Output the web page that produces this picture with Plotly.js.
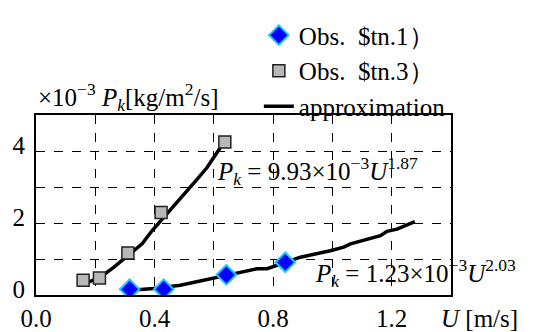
<!DOCTYPE html>
<html><head><meta charset="utf-8">
<script src="https://cdn.plot.ly/plotly-3.0.1.min.js"></script>
<style>body{margin:0;padding:0;background:#fff}#chart{width:560px;height:332px}.main-svg text{font-family:'Liberation Serif',serif !important}</style>
</head><body><div id="chart"></div>
<script>
// Observations, station 1 (U [m/s], Pk [x10^-3 kg/m2/s])
const stn1U = [0.316, 0.431, 0.642, 0.841];
const stn1P = [0.16, 0.16, 0.56, 0.91];
// Observations, station 3
const stn3U = [0.159, 0.214, 0.310, 0.422, 0.637];
const stn3P = [0.41, 0.47, 1.17, 2.29, 4.25];
// Approximation curve for station 3
const fit3U = [0.161, 0.218, 0.262, 0.313, 0.358, 0.392, 0.431, 0.476, 0.510, 0.544, 0.577, 0.600, 0.633];
const fit3P = [0.30, 0.50, 0.77, 1.12, 1.42, 1.79, 2.15, 2.57, 2.89, 3.22, 3.54, 3.81, 4.23];
// Approximation curve for station 1
const fit1U = [0.319, 0.397, 0.487, 0.589, 0.645, 0.746, 0.780, 0.847, 0.892, 0.993, 1.038, 1.061, 1.162, 1.184, 1.218, 1.278];
const fit1P = [0.13, 0.18, 0.27, 0.45, 0.54, 0.73, 0.73, 0.91, 1.05, 1.23, 1.33, 1.42, 1.65, 1.77, 1.83, 2.04];
const names = ['Obs.  &#36;tn.1）', 'Obs.  &#36;tn.3）', 'approximation'];
// Tick labels (grid on every tick, label on every other one)
const xTickVals = [0, 0.2, 0.4, 0.6, 0.8, 1.0, 1.2, 1.4];
const xTickText = ['0.0', '', '0.4', '', '0.8', '', '1.2', ''];
const yTickVals = [0, 1, 2, 3, 4, 5];
const yTickText = ['0', '', '2', '', '4', ''];

const F = 'Liberation Serif';
const traces = [
  {x: fit3U, y: fit3P, mode: 'lines', line: {color: 'black', width: 3.5}, name: names[2], legendgroup: 'c', showlegend: true, legendrank: 3},
  {x: fit1U, y: fit1P, mode: 'lines', line: {color: 'black', width: 3.5}, name: names[2], legendgroup: 'c', showlegend: false},
  {x: stn1U, y: stn1P, mode: 'markers', name: names[0], legendgroup: 'a', legendrank: 1,
   marker: {symbol: 'diamond', size: 15, color: '#0000ff', line: {color: '#19c8ff', width: 2}}},
  {x: stn3U, y: stn3P, mode: 'markers', name: names[1], legendgroup: 'b', legendrank: 2,
   marker: {symbol: 'square', size: 12, color: '#b8b8b8', line: {color: '#222', width: 1.5}}}
];
const layout = {
  width: 560, height: 332,
  margin: {l: 35.5, r: 108.5, t: 113, b: 37.3},
  paper_bgcolor: '#fff', plot_bgcolor: '#fff',
  font: {family: F, size: 25, color: 'black'},
  showlegend: true,
  legend: {x: 0.537, y: 1.57, xanchor: 'left', yanchor: 'top', bgcolor: 'rgba(0,0,0,0)',
           font: {family: F, size: 25, color: 'black'}, tracegroupgap: 7, traceorder: 'normal'},
  xaxis: {range: [0, 1.4], tickmode: 'array', tickvals: xTickVals, ticktext: xTickText,
          showgrid: true, gridcolor: 'black', griddash: 'dash', gridwidth: 1,
          showline: true, mirror: true, linecolor: 'black', linewidth: 2, zeroline: false,
          tickfont: {family: F, size: 25, color: 'black'}},
  yaxis: {range: [0, 5], tickmode: 'array', tickvals: yTickVals, ticktext: yTickText,
          showgrid: true, gridcolor: 'black', griddash: 'dash', gridwidth: 1,
          showline: true, mirror: true, linecolor: 'black', linewidth: 2, zeroline: false,
          ticklabelshift: -6, ticklabelstandoff: 4,
          tickfont: {family: F, size: 25, color: 'black'}},
  annotations: [
    {xref: 'paper', yref: 'paper', x: 0, y: 1.10, xanchor: 'left', yanchor: 'middle', showarrow: false,
     text: '×10<sup>−3</sup> <i>P</i><sub><i>k</i></sub>[kg/m<sup>2</sup>/s]', font: {family: F, size: 25, color: 'black'}},
    {xref: 'paper', yref: 'paper', x: 0.972, y: -0.128, xanchor: 'left', yanchor: 'middle', showarrow: false,
     text: '<i>U</i> [m/s]', font: {family: F, size: 25, color: 'black'}},
    {xref: 'paper', yref: 'paper', x: 0.431, y: 0.69, xanchor: 'left', yanchor: 'middle', showarrow: false,
     text: '<i>P</i><sub><i>k</i></sub> = 9.93×10<sup>−3</sup><i>U</i><sup>1.87</sup>', font: {family: F, size: 25, color: 'black'}},
    {xref: 'paper', yref: 'paper', x: 0.667, y: 0.125, xanchor: 'left', yanchor: 'middle', showarrow: false,
     text: '<i>P</i><sub><i>k</i></sub> = 1.23×10<sup>−3</sup><i>U</i><sup>2.03</sup>', font: {family: F, size: 25, color: 'black'}}
  ]
};
Plotly.newPlot('chart', traces, layout, {displayModeBar: false, staticPlot: true});
</script></body></html>
